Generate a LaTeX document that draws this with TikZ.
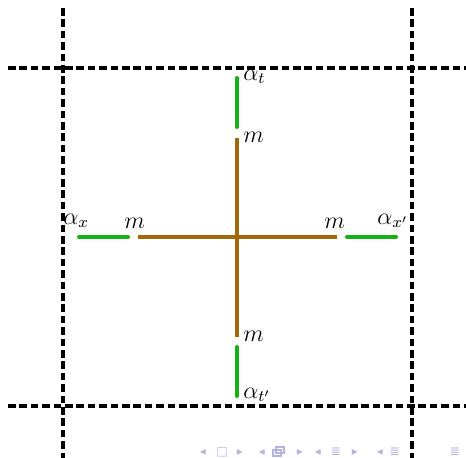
\documentclass[tikz,border=0pt]{standalone}
\usepackage{amsmath}
\usepackage{fontspec}
\newfontfamily\navfont{DejaVu Sans}
\usetikzlibrary{positioning}
\definecolor{crossBrown}{RGB}{160,104,8}
\definecolor{legGreen}{RGB}{20,178,20}
\definecolor{navBlue}{RGB}{180,180,225}
\tikzset{
  gridline/.style = {line width=2pt, dash pattern=on 3.8pt off 1.9pt},
  crossline/.style = {line width=2pt, crossBrown},
  legline/.style = {line width=2pt, legGreen, line cap=round},
  lbl/.style = {inner sep=0pt, anchor=west, font=\fontsize{11.5}{14}\selectfont},
  nav/.style = {inner sep=0pt, font=\navfont\fontsize{6}{6}\selectfont, text=navBlue}
}

\begin{document}
\begin{tikzpicture}[x=0.5pt, y=-0.5pt]
    \useasboundingbox (0,0) rectangle (466,458);

    % lattice lines
    \coordinate (vl-top) at (63,8);   \coordinate (vl-bot) at (63,458);
    \coordinate (vr-top) at (412,8);  \coordinate (vr-bot) at (412,458);
    \coordinate (ht-left) at (8,68);  \coordinate (ht-right) at (466,68);
    \coordinate (hb-left) at (8,406); \coordinate (hb-right) at (466,406);
    \draw[gridline] (vl-top) -- (vl-bot);
    \draw[gridline] (vr-top) -- (vr-bot);
    \draw[gridline] (ht-left) -- (ht-right);
    \draw[gridline] (hb-left) -- (hb-right);

    % cross of m links
    \coordinate (c-up) at (237,138);   \coordinate (c-down) at (237,337);
    \coordinate (c-left) at (138,237); \coordinate (c-right) at (337,237);
    \draw[crossline] (c-up) -- (c-down);
    \draw[crossline] (c-left) -- (c-right);

    % alpha legs
    \coordinate (t-a) at (237,78);   \coordinate (t-b) at (237,127);
    \coordinate (b-a) at (237,347);  \coordinate (b-b) at (237,396);
    \coordinate (l-a) at (79,237);   \coordinate (l-b) at (128,237);
    \coordinate (r-a) at (347,237);  \coordinate (r-b) at (396,237);
    \draw[legline] (t-a) -- (t-b);
    \draw[legline] (b-a) -- (b-b);
    \draw[legline] (l-a) -- (l-b);
    \draw[legline] (r-a) -- (r-b);

    % labels
    \node[lbl] (alpha-t) at (243,77) {$\alpha_t$};
    \node[lbl] (m-top) at (243,137) {$m$};
    \node[lbl] (alpha-x) at (63,221) {$\alpha_x$};
    \node[lbl] (m-left) at (124,223) {$m$};
    \node[lbl] (m-right) at (324,223) {$m$};
    \node[lbl] (alpha-xp) at (377,221) {$\alpha_{x'}$};
    \node[lbl] (m-bot) at (243,336) {$m$};
    \node[lbl] (alpha-tp) at (243,395) {$\alpha_{t'}$};

    % navigation symbols
    \foreach \x/\s [count=\i] in {203/◂,222/□,240/▸,262/◂,300/▸,318/◂,336/≣,355/▸,380/◂,395/≣,455/≣}
      \node[nav] (nav-\i) at (\x,452) {\s};
    \draw[navBlue, line width=0.6pt] (273,450) rectangle (281,456)
      (276,447) rectangle (284,453);
\end{tikzpicture}
\end{document}
